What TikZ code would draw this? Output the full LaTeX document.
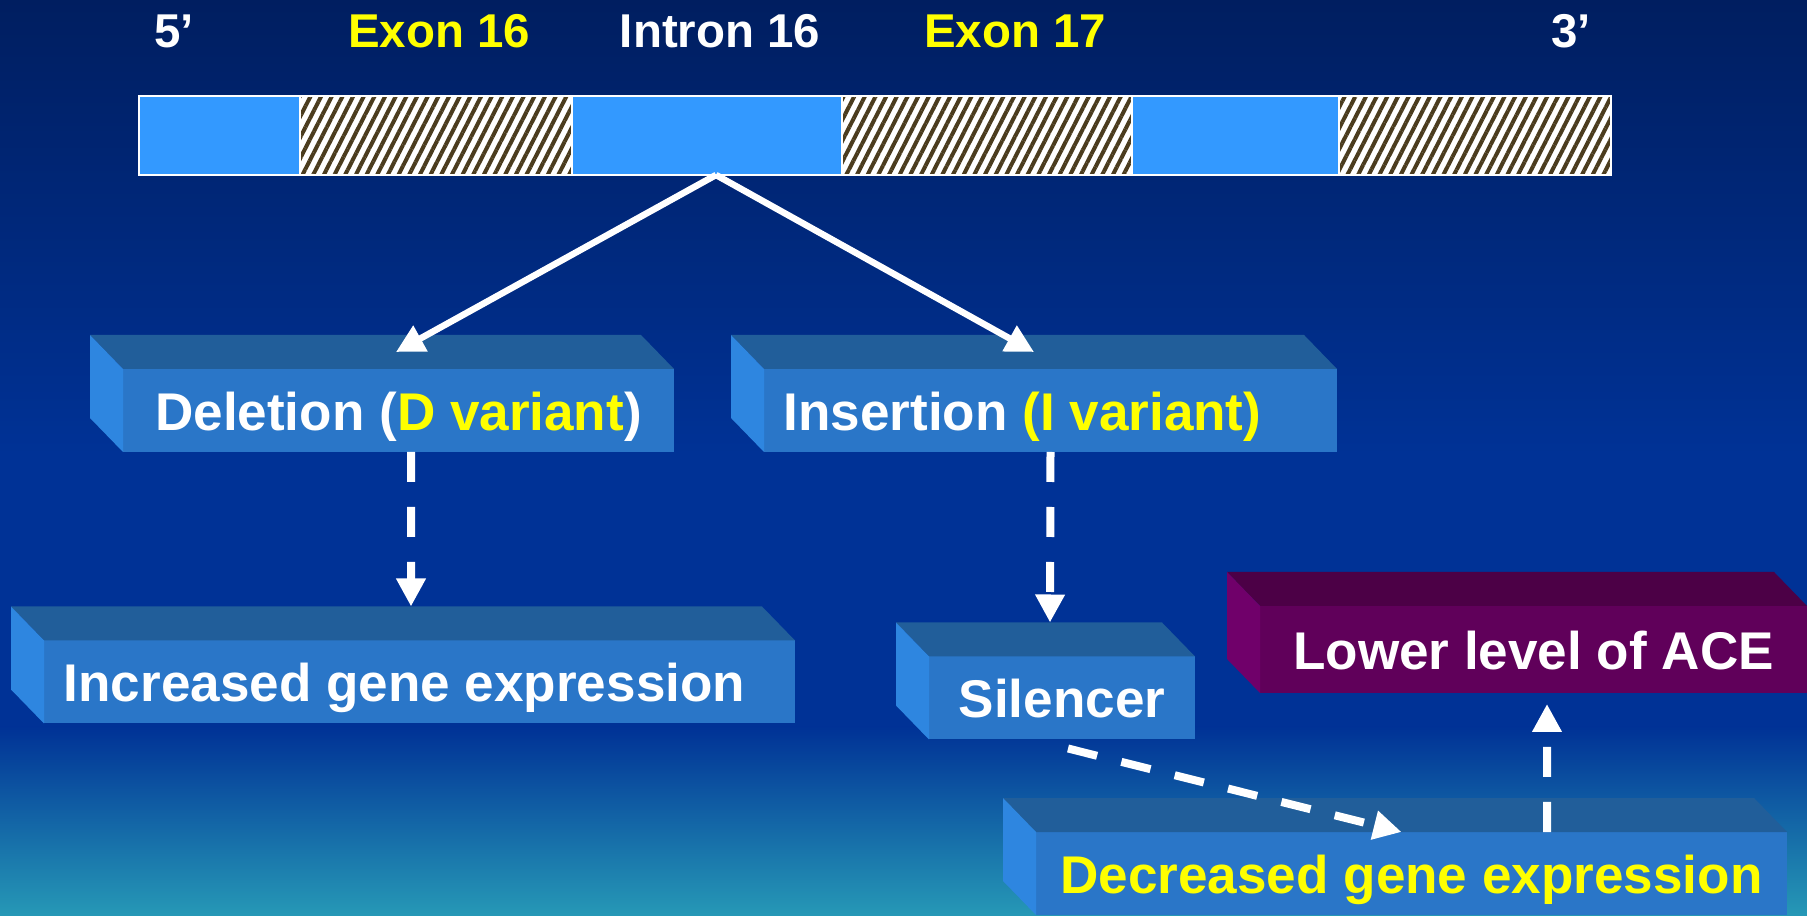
\documentclass[tikz,border=0pt]{standalone}
\usepackage{fontspec}
\setmainfont{Liberation Sans}
\usetikzlibrary{arrows.meta,patterns.meta}

\definecolor{bgtop}{RGB}{0,30,96}
\definecolor{bgmid}{RGB}{0,50,150}
\definecolor{bgbot}{RGB}{38,152,182}
\definecolor{genebar}{RGB}{51,153,255}
\definecolor{hatch}{RGB}{75,60,30}
\definecolor{slabfront}{RGB}{42,118,200}
\definecolor{slabtop}{RGB}{33,94,154}
\definecolor{slabside}{RGB}{46,134,224}
\definecolor{plumfront}{RGB}{96,0,90}
\definecolor{plumtop}{RGB}{76,0,70}
\definecolor{plumside}{RGB}{112,0,106}
\definecolor{labyellow}{RGB}{255,255,0}

\tikzset{
  seg/.style={draw=white, line width=0.02cm, anchor=west, minimum height=0.79cm, inner sep=0pt, outer sep=0pt},
  intronseg/.style={seg, fill=genebar},
  exonseg/.style={seg, preaction={fill=white}, pattern={Lines[angle=63,distance=0.095cm,line width=0.04cm]}, pattern color=hatch},
  toplabel/.style={anchor=base, text=white, font=\bfseries\fontsize{13.5}{16}\selectfont},
  slab/.style={fill=slabfront, text=white, inner sep=0pt, outer sep=0pt, minimum height=0.83cm,
               text height=0.40cm, text depth=0cm, font=\bfseries\fontsize{15.1}{18}\selectfont},
  plum/.style={slab, fill=plumfront, minimum height=0.87cm},
  link/.style={->, white, line width=0.065cm},
  hint/.style={->, white, line width=0.08cm, dash pattern=on 0.3cm off 0.25cm}
}

\begin{document}
\begin{tikzpicture}[>={Triangle[length=0.28cm,width=0.28cm]}]
  % background
  \useasboundingbox (0,0) rectangle (18.07,9.15);
  \clip (0,0) rectangle (18.07,9.15);
  \shade[top color=bgtop, bottom color=bgmid] (0,9.15) rectangle (18.07,4.6);
  \fill[bgmid] (0,4.6) rectangle (18.07,1.88);
  \shade[top color=bgmid, bottom color=bgbot] (0,1.88) rectangle (18.07,0);

  % gene bar
  \foreach \s/\a/\w [count=\i] in {intronseg/1.39/1.61, exonseg/3.00/2.72, intronseg/5.72/2.70,
                                   exonseg/8.42/2.90, intronseg/11.32/2.07, exonseg/13.39/2.72}
    \node[\s, minimum width=\w cm] (seg\i) at (\a,7.795) {};

  \node[toplabel] (p5) at (1.74,8.67) {5’};
  \node[toplabel, text=labyellow] (ex16) at (4.39,8.67) {Exon 16};
  \node[toplabel] (in16) at (7.20,8.67) {Intron 16};
  \node[toplabel, text=labyellow] (ex17) at (10.15,8.67) {Exon 17};
  \node[toplabel] (p3) at (15.71,8.67) {3’};

  % boxes
  \node[slab, minimum width=5.51cm] (del) at (3.985,5.045) {Deletion (\textcolor{labyellow}{D variant})};
  \node[slab, minimum width=5.73cm] (ins) at (10.505,5.045) {Insertion \textcolor{labyellow}{(I variant)}\kern0.56cm};
  \node[slab, minimum width=7.51cm] (inc) at (4.195,2.33) {Increased gene expression\kern0.3cm};
  \node[slab, minimum width=2.66cm] (sil) at (10.62,2.17) {Silencer};
  \node[plum, minimum width=5.47cm] (ace) at (15.335,2.655) {Lower level of ACE};
  \node[slab, minimum width=7.51cm, text=labyellow] (dec) at (14.115,0.415) {Decreased gene expression};

  \foreach \n/\t/\s in {del/slabtop/slabside, ins/slabtop/slabside, inc/slabtop/slabside,
                        sil/slabtop/slabside, dec/slabtop/slabside, ace/plumtop/plumside} {
    \fill[\t] (\n.north west) -- ++(-0.33,0.34) -- ([shift={(-0.33,0.34)}]\n.north east) -- (\n.north east) -- cycle;
    \fill[\s] (\n.north west) -- ++(-0.33,0.34) -- ([shift={(-0.33,0.34)}]\n.south west) -- (\n.south west) -- cycle;
  }

  % arrows
  \draw[link] ([xshift=0.09cm]seg3.south) -- ([xshift=-0.025cm,yshift=0.17cm]del.north);
  \draw[link] ([xshift=0.09cm]seg3.south) -- ([xshift=-0.165cm,yshift=0.17cm]ins.north);

  \draw[hint] ([xshift=0.125cm]del.south) -- ([xshift=-0.085cm,yshift=0.34cm]inc.north);
  \draw[hint] (ins.south) -- ([xshift=-0.12cm,yshift=0.34cm]sil.north);
  \draw[hint] ([xshift=0.06cm,yshift=-0.09cm]sil.south) -- ([xshift=-0.1cm]dec.north);
  \draw[hint] ([xshift=1.355cm]dec.north) -- ([xshift=0.135cm,yshift=-0.11cm]ace.south);
\end{tikzpicture}
\end{document}
